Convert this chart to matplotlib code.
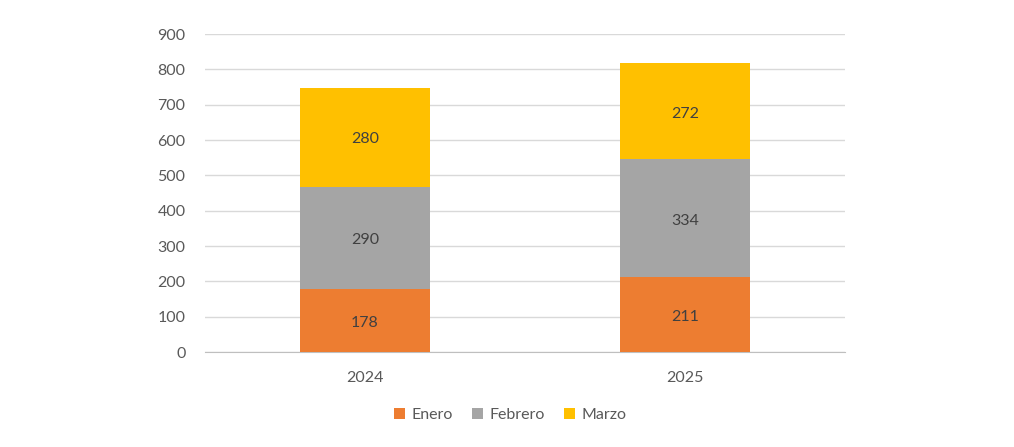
import matplotlib
matplotlib.use('Agg')
import matplotlib.pyplot as plt
import numpy as np

# data
years = ['2024', '2025']
enero = [178, 211]
febrero = [290, 334]
marzo = [280, 272]

series = [('Enero', enero, '#ED7D31'),
          ('Febrero', febrero, '#A5A5A5'),
          ('Marzo', marzo, '#FFC000')]

plt.rcParams['font.family'] = ['Lato', 'DejaVu Sans']
text_color = '#595959'

fig = plt.figure(figsize=(10.14, 4.47), dpi=100)
ax = fig.add_axes([205 / 1014, 95 / 447, 640 / 1014, 318 / 447])

x = np.arange(len(years))
bottom = np.zeros(len(years))
for name, vals, color in series:
    ax.bar(x, vals, 0.405, bottom=bottom, color=color, label=name, zorder=3)
    for xi, b, v in zip(x, bottom, vals):
        # label in the middle of each segment
        ax.text(xi, b + v / 2 - 6, str(v), ha='center', va='center',
                fontsize=11.5, color='#404040', zorder=4)
    bottom += np.array(vals)

ax.set_xlim(-0.5, 1.5)
ax.set_ylim(0, 900)
ax.set_yticks(range(0, 901, 100))
ax.set_xticks(x)
ax.set_xticklabels(years)
ax.yaxis.grid(True, color='#D9D9D9', linewidth=1, zorder=0)
ax.tick_params(axis='both', length=0, labelsize=11.5, colors=text_color)
ax.tick_params(axis='y', pad=14)
ax.tick_params(axis='x', pad=14)
for side in ['top', 'right', 'left']:
    ax.spines[side].set_visible(False)
ax.spines['bottom'].set_color('#BFBFBF')

ax.legend(loc='center', bbox_to_anchor=(510 / 1014, 32 / 447),
          bbox_transform=fig.transFigure, ncol=3, frameon=False,
          fontsize=11.5, labelcolor=text_color, handlelength=0.7,
          handleheight=0.7, handletextpad=0.4, columnspacing=1.2)

fig.savefig('out.png', dpi=100)
